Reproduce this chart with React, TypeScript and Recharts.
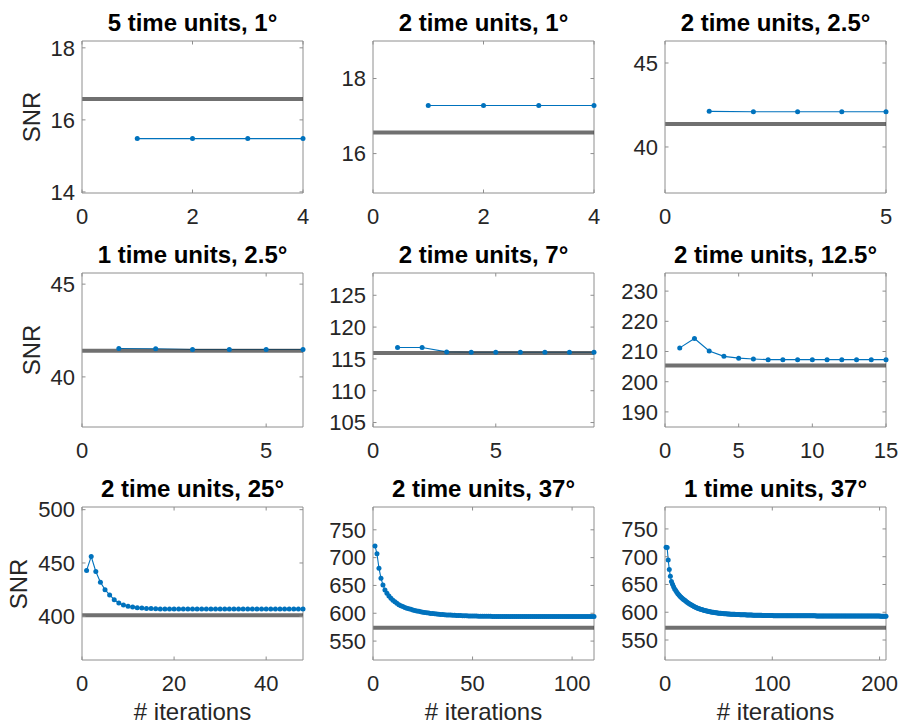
import * as React from "react";
import { LineChart, Line, XAxis, YAxis, ReferenceLine } from "recharts";

const FONT = '"Liberation Sans", Arial, Helvetica, sans-serif';
const AXIS = "#8e8e8e";
const TEXT = "#262626";
const BLUE = "#0072BD";
const TICK_FONT = 22;

// SNR per iteration
const snr5u1 = [15.48, 15.48, 15.48, 15.48];
const snr2u1 = [17.28, 17.28, 17.28, 17.28];
const snr2u25 = [42.12, 42.1, 42.1, 42.1, 42.1];
const snr1u25 = [41.53, 41.52, 41.48, 41.48, 41.48, 41.48];
const snr2u7 = [116.8, 116.8, 116.1, 116.05, 116.05, 116.05, 116.05, 116.05, 116.05];
const snr2u125 = [
  211.2, 214.3, 210.2, 208.4, 207.8, 207.5, 207.3, 207.3, 207.3, 207.3, 207.3, 207.3, 207.3, 207.3, 207.3,
];
const snr2u25deg = [
  443, 456, 442, 432, 425, 420, 415.6, 412.5, 410.6, 409.4,
  408.7, 408.1, 407.7, 407.4, 407.2, 407.0, 406.9, 406.9, 406.9, 406.9,
  406.8, 406.8, 406.8, 406.8, 406.8, 406.8, 406.8, 406.8, 406.8, 406.8,
  406.8, 406.8, 406.8, 406.8, 406.8, 406.8, 406.8, 406.8, 406.8, 406.8,
  406.8, 406.8, 406.8, 406.8, 406.8, 406.8, 406.8, 406.8,
];
const snr2u37 = [
  721, 707, 681, 663, 651, 642, 636, 631, 627, 623.5,
  620.5, 618, 615.5, 613.5, 612, 610.5, 609, 608, 607, 606,
  605, 604.2, 603.4, 602.7, 602, 601.4, 600.8, 600.3, 599.8, 599.4,
  599, 598.6, 598.3, 598, 597.7, 597.4, 597.1, 596.9, 596.7, 596.5,
  596.3, 596.1, 595.9, 595.8, 595.6, 595.5, 595.4, 595.3, 595.2, 595.1,
  595.0, 594.9, 594.8, 594.8, 594.7, 594.6, 594.6, 594.5, 594.5, 594.4,
  594.4, 594.4, 594.3, 594.3, 594.3, 594.2, 594.2, 594.2, 594.2, 594.1,
  594.1, 594.1, 594.1, 594.1, 594.1, 594.1, 594.1, 594.1, 594.1, 594.1,
  594.0, 594.0, 594.0, 594.0, 594.0, 594.0, 594.0, 594.0, 594.0, 594.0,
  594.0, 594.0, 594.0, 594.0, 594.0, 594.0, 594.0, 594.0, 594.0, 594.0,
  594.0, 594.0, 594.0, 594.0, 594.0, 594.0, 594.0, 594.0, 594.0, 594.0,
  594.0,
];
const snr1u37 = [
  717, 716.5, 694, 677, 665, 655.5, 650.5, 646, 642, 639,
  636, 633.5, 631, 629, 627, 625.2, 623.5, 622, 620.5, 619,
  617.6, 616.3, 615, 613.8, 612.7, 611.6, 610.5, 609.5, 608.5, 607.5,
  606.8, 606.1, 605.5, 604.9, 604.3, 603.7, 603.2, 602.7, 602.2, 601.8,
  601.3, 600.9, 600.5, 600.2, 599.8, 599.5, 599.2, 598.9, 598.6, 598.3,
  598.1, 598, 597.8, 597.6, 597.5, 597.3, 597.2, 597, 596.9, 596.8,
  596.6, 596.5, 596.4, 596.3, 596.2, 596.1, 596, 595.9, 595.8, 595.7,
  595.6, 595.5, 595.5, 595.4, 595.3, 595.2, 595.1, 595.1, 595, 594.9,
  594.9, 594.8, 594.7, 594.7, 594.6, 594.6, 594.5, 594.5, 594.4, 594.4,
  594.3, 594.3, 594.2, 594.2, 594.2, 594.1, 594.1, 594, 594, 594,
  593.9, 593.9, 593.9, 593.9, 593.9, 593.8, 593.8, 593.8, 593.8, 593.8,
  593.8, 593.7, 593.7, 593.7, 593.7, 593.7, 593.7, 593.7, 593.7, 593.7,
  593.6, 593.6, 593.6, 593.6, 593.6, 593.6, 593.6, 593.6, 593.6, 593.6,
  593.5, 593.5, 593.5, 593.5, 593.5, 593.5, 593.5, 593.5, 593.5, 593.5,
  593.4, 593.4, 593.4, 593.4, 593.4, 593.3, 593.3, 593.3, 593.3, 593.3,
  593.3, 593.3, 593.3, 593.3, 593.3, 593.3, 593.3, 593.3, 593.3, 593.3,
  593.2, 593.2, 593.2, 593.2, 593.2, 593.2, 593.2, 593.2, 593.2, 593.2,
  593.2, 593.2, 593.2, 593.2, 593.2, 593.2, 593.2, 593.2, 593.2, 593.2,
  593.1, 593.1, 593.1, 593.1, 593.1, 593.1, 593.1, 593.1, 593.1, 593.1,
  593.1, 593.1, 593.1, 593.1, 593.1, 593.1, 593.1, 593.1, 593.1, 593.1,
  593.0, 593.0, 593.0, 593.0, 593.0, 593.0,
];

// baseline SNR (thick gray line) for each subplot
const baselineSnr = [16.58, 16.56, 41.37, 41.41, 115.93, 205.4, 401, 573.8, 572.2];

const titles = [
  "5 time units, 1°",
  "2 time units, 1°",
  "2 time units, 2.5°",
  "1 time units, 2.5°",
  "2 time units, 7°",
  "2 time units, 12.5°",
  "2 time units, 25°",
  "2 time units, 37°",
  "1 time units, 37°",
];

const xMax = [4, 4, 5, 6, 9, 15, 48, 111, 206];
const xTickSets = [
  [0, 2, 4],
  [0, 2, 4],
  [0, 5],
  [0, 5],
  [0, 5],
  [0, 5, 10, 15],
  [0, 20, 40],
  [0, 50, 100],
  [0, 100, 200],
];
const yDomains: [number, number][] = [
  [13.97, 18.19],
  [14.95, 19.0],
  [37.26, 46.31],
  [37.3, 45.6],
  [104.3, 128.5],
  [185, 236],
  [359, 502.5],
  [516, 791],
  [514, 789.5],
];
const yTickSets = [
  [14, 16, 18],
  [16, 18],
  [40, 45],
  [40, 45],
  [105, 110, 115, 120, 125],
  [190, 200, 210, 220, 230],
  [400, 450, 500],
  [550, 600, 650, 700, 750],
  [550, 600, 650, 700, 750],
];
const series = [snr5u1, snr2u1, snr2u25, snr1u25, snr2u7, snr2u125, snr2u25deg, snr2u37, snr1u37];

// subplot grid geometry (page pixels)
const colLeft = [82, 373, 665];
const rowTop = [41, 273, 507];
const rowHeight = [152, 154, 153];
const snrLabelX = [31.5, 31.5, 18.5];
const PLOT_W = 221;

const PAD_L = 70;
const PAD_T = 20;
const PAD_R = 24;
const PAD_B = 40;

// tick label plus MATLAB-style inward tick marks on bottom and top edges
function XTick(props: any) {
  const { x, y, payload, plotTop, plotBottom } = props;
  return (
    <g>
      <line x1={x} x2={x} y1={plotBottom} y2={plotBottom - 3.5} stroke={AXIS} />
      <line x1={x} x2={x} y1={plotTop} y2={plotTop + 3.5} stroke={AXIS} />
      <text x={x} y={y} dy="0.71em" textAnchor="middle" fill={TEXT} fontSize={TICK_FONT} fontFamily={FONT}>
        {payload.value}
      </text>
    </g>
  );
}

// same for the left and right edges
function YTick(props: any) {
  const { x, y, payload, plotLeft, plotRight } = props;
  return (
    <g>
      <line x1={plotLeft} x2={plotLeft + 3.5} y1={y} y2={y} stroke={AXIS} />
      <line x1={plotRight} x2={plotRight - 3.5} y1={y} y2={y} stroke={AXIS} />
      <text x={x} y={y} dy="0.355em" textAnchor="end" fill={TEXT} fontSize={TICK_FONT} fontFamily={FONT}>
        {payload.value}
      </text>
    </g>
  );
}

function Panel({ i }: { i: number }) {
  const col = i % 3;
  const row = Math.floor(i / 3);
  const left = colLeft[col];
  const top = rowTop[row];
  const h = rowHeight[row];
  const rows = series[i].map((v, k) => ({ iter: k + 1, snr: v }));
  const dom: [number, number] = [0, xMax[i]];

  return (
    <>
      <div
        style={{
          position: "absolute",
          left,
          width: PLOT_W,
          top: top - 29.6,
          textAlign: "center",
          fontFamily: FONT,
          fontWeight: "bold",
          fontSize: 24,
          lineHeight: "24px",
          color: "#000",
          whiteSpace: "nowrap",
        }}
      >
        {titles[i]}
      </div>
      {col === 0 ? (
        <div
          style={{
            position: "absolute",
            left: snrLabelX[row] - 50,
            width: 100,
            top: top + h / 2 - 12,
            textAlign: "center",
            fontFamily: FONT,
            fontSize: 24,
            lineHeight: "24px",
            color: TEXT,
            transform: "rotate(-90deg)",
          }}
        >
          SNR
        </div>
      ) : null}
      {row === 2 ? (
        <div
          style={{
            position: "absolute",
            left,
            width: PLOT_W,
            top: 700.4,
            textAlign: "center",
            fontFamily: FONT,
            fontSize: 24,
            lineHeight: "24px",
            color: TEXT,
            whiteSpace: "nowrap",
          }}
        >
          # iterations
        </div>
      ) : null}
      <div style={{ position: "absolute", left: left - PAD_L, top: top - PAD_T }}>
        <LineChart
          width={PLOT_W + PAD_L + PAD_R}
          height={h + PAD_T + PAD_B}
          data={rows}
          margin={{ top: PAD_T, right: PAD_R, bottom: 0, left: 0 }}
        >
          <XAxis
            dataKey="iter"
            type="number"
            domain={dom}
            ticks={xTickSets[i]}
            interval={0}
            height={PAD_B}
            tickLine={false}
            tickSize={0}
            tickMargin={15}
            axisLine={{ stroke: AXIS }}
            tick={<XTick plotTop={PAD_T} plotBottom={PAD_T + h} />}
          />
          <YAxis
            type="number"
            domain={yDomains[i]}
            ticks={yTickSets[i]}
            interval={0}
            width={PAD_L}
            tickLine={false}
            tickSize={0}
            tickMargin={7}
            axisLine={{ stroke: AXIS }}
            tick={<YTick plotLeft={PAD_L} plotRight={PAD_L + PLOT_W} />}
          />
          {/* box edges on top and right */}
          <ReferenceLine y={yDomains[i][1]} stroke={AXIS} strokeWidth={1} />
          <ReferenceLine x={xMax[i]} stroke={AXIS} strokeWidth={1} />
          <Line
            type="linear"
            dataKey="snr"
            stroke={BLUE}
            strokeWidth={1.1}
            dot={{ r: 2.5, fill: BLUE, stroke: "none", strokeWidth: 0 }}
            activeDot={false}
            isAnimationActive={false}
          />
          <ReferenceLine y={baselineSnr[i]} stroke="#333333" strokeOpacity={0.7} strokeWidth={4} />
        </LineChart>
      </div>
    </>
  );
}

export default function App() {
  return (
    <div
      style={{
        position: "absolute",
        left: 0,
        top: 0,
        width: 902,
        height: 725,
        background: "#fff",
        overflow: "hidden",
      }}
    >
      {titles.map((_, i) => (
        <Panel key={i} i={i} />
      ))}
    </div>
  );
}
